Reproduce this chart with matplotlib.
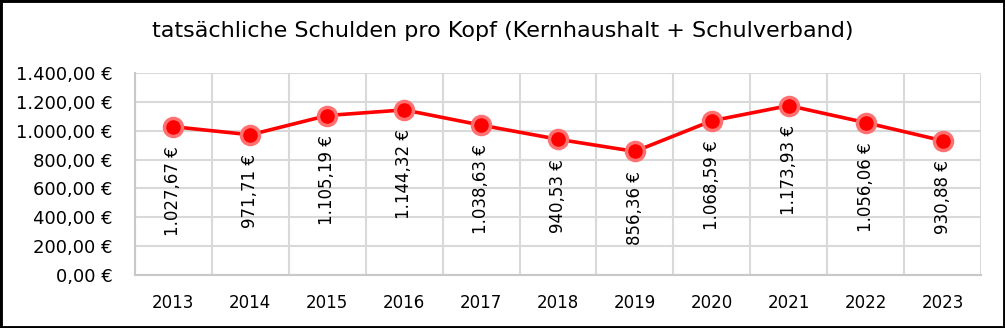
import matplotlib
matplotlib.use('Agg')
import matplotlib.pyplot as plt
from matplotlib.patches import Rectangle
from matplotlib.ticker import FuncFormatter, MultipleLocator

years = ['2013', '2014', '2015', '2016', '2017', '2018', '2019', '2020', '2021', '2022', '2023']
schulden = [1027.67, 971.71, 1105.19, 1144.32, 1038.63, 940.53, 856.36, 1068.59, 1173.93, 1056.06, 930.88]

plt.rcParams['font.family'] = ['DejaVu Sans']


def euro(v, pos=None):
    s = f'{v:,.2f}'.replace(',', 'X').replace('.', ',').replace('X', '.')
    return s + ' €'


fig = plt.figure(figsize=(10.05, 3.28), dpi=100)
ax = fig.add_axes([0.1343, 0.1616, 0.8418, 0.6159])

x = list(range(len(years)))
ax.plot(x, schulden, '-', color='#ff0000', lw=2.6, zorder=3)
ax.plot(x, schulden, 'o', ms=13, color='#ff0000', mec='#ff7070', mew=2.5, zorder=4)

# Werte senkrecht unter die Punkte schreiben
for i, v in zip(x, schulden):
    ax.annotate(euro(v), (i, v), xytext=(0, -14), textcoords='offset points',
                rotation=90, ha='center', va='top', fontsize=12, color='black')

ax.set_xlim(-0.5, len(years) - 0.5)
ax.set_ylim(0, 1400)
ax.set_xticks(x)
ax.set_xticklabels(years)
ax.set_xticks([i - 0.5 for i in range(len(years) + 1)], minor=True)
ax.yaxis.set_major_locator(MultipleLocator(200))
ax.yaxis.set_major_formatter(FuncFormatter(euro))

ax.grid(True, axis='y', which='major', color='#d9d9d9', lw=1.5)
ax.grid(True, axis='x', which='minor', color='#d9d9d9', lw=1.5)
ax.set_axisbelow(True)
for side in ['top', 'right']:
    ax.spines[side].set_visible(False)
for side in ['left', 'bottom']:
    ax.spines[side].set_color('#c8c8c8')
    ax.spines[side].set_linewidth(1.5)

ax.tick_params(axis='both', which='both', length=0, colors='black')
ax.tick_params(axis='y', pad=16, labelsize=13)
ax.tick_params(axis='x', pad=14, labelsize=12)

fig.text(0.5, 0.905, 'tatsächliche Schulden pro Kopf (Kernhaushalt + Schulverband)',
         ha='center', va='center', fontsize=16, color='black')

fig.patches.append(Rectangle((0, 0), 1, 1, transform=fig.transFigure, fill=False,
                             edgecolor='black', lw=3.5))

plt.savefig('out.png', dpi=100)
